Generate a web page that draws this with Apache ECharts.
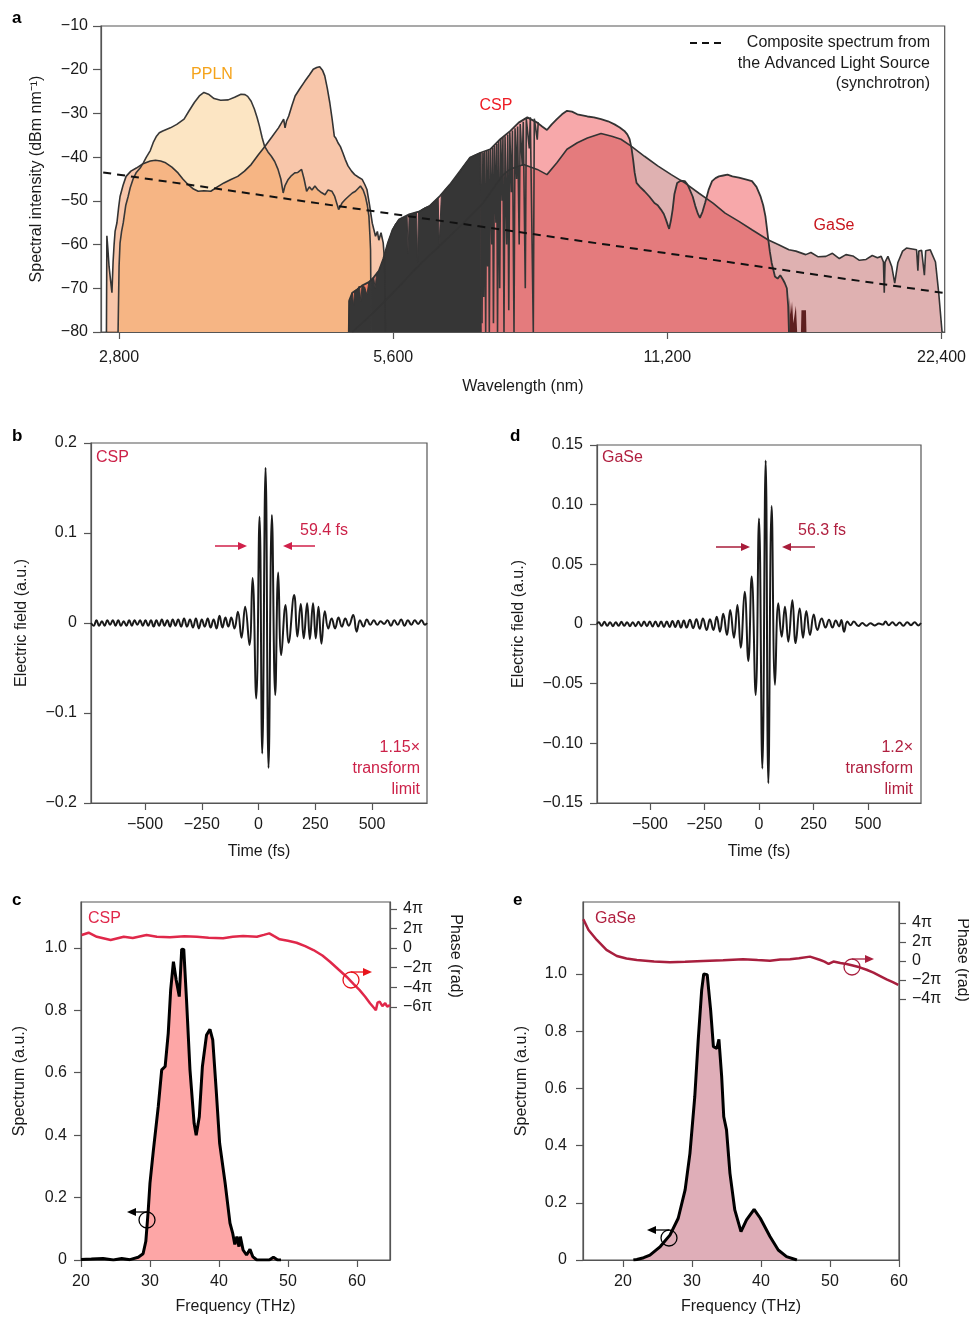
<!DOCTYPE html>
<html>
<head>
<meta charset="utf-8">
<title>Mid-IR spectra and pulses</title>
<script src="https://cdn.jsdelivr.net/npm/echarts@6/dist/echarts.min.js"></script>
<style>
  html, body { margin: 0; padding: 0; background: #fff; }
  #chart { width: 969px; height: 1317px; }
</style>
</head>
<body>
<div id="chart"></div>
<script>
// ---------- panel a : [wavelength (nm), spectral intensity (dBm/nm)]
const pplnSpec = [[2793,-80],[2800,-65],[2807,-59.6],[2818,-57],[2830,-55],[2848,-51],[2865,-49],[2880,-47],[2900,-45.1],[2925,-43.5],[2953,-42.5],[2977,-41.3],[3000,-40],[3030,-38.5],[3055,-36.5],[3078,-35.2],[3100,-34.4],[3127,-34],[3160,-33.6],[3188,-33.3],[3240,-32.5],[3300,-31.3],[3340,-29.5],[3387,-27.5],[3430,-26],[3470,-25.2],[3510,-25.6],[3560,-26.6],[3620,-27],[3690,-26.9],[3750,-26.3],[3811,-25.6],[3850,-25.7],[3876,-26.1],[3910,-27.2],[3942,-29],[3970,-31],[3993,-32.9],[4020,-35.5],[4045,-37.5],[4080,-38.8],[4115,-39.8],[4150,-41],[4185,-42.8],[4215,-45],[4240,-48.2],[4260,-46.5],[4294,-45.1],[4330,-44.2],[4366,-43.6],[4400,-43.5],[4442,-42.8],[4470,-45],[4499,-47.8],[4530,-46.8],[4560,-47.5],[4594,-46.6],[4630,-47.5],[4670,-48.1],[4713,-48.6],[4750,-47.5],[4795,-47.8],[4830,-49],[4878,-52],[4920,-50.5],[4960,-49.7],[5000,-49],[5050,-48.2],[5090,-47.8],[5155,-46.6],[5190,-47.5],[5220,-49],[5245,-51],[5266,-53.5],[5280,-58],[5288,-61.2],[5292,-70],[5297,-80]];
const pplnSpec2 = [[2712,-80],[2715,-58],[2722,-61],[2730,-65],[2740,-68],[2750,-71],[2758,-64],[2765,-60],[2772,-57],[2785,-55],[2797,-51.5],[2807,-49],[2828,-46.5],[2850,-44.4],[2885,-43.2],[2925,-42.5],[2975,-41.5],[3030,-40.9],[3070,-40.7],[3110,-40.9],[3150,-41.3],[3200,-42.3],[3250,-43.6],[3290,-45],[3335,-46.3],[3380,-47.3],[3420,-47.8],[3470,-47.7],[3531,-47.8],[3590,-46.8],[3650,-45.9],[3715,-45.1],[3780,-44.4],[3845,-43.2],[3910,-41.7],[3980,-39.5],[4050,-37.5],[4120,-35.4],[4190,-33.3],[4245,-31.3],[4260,-33.3],[4275,-31.8],[4300,-30.6],[4335,-28.2],[4370,-26],[4420,-24.4],[4480,-22.6],[4530,-21.2],[4575,-19.9],[4615,-19.5],[4650,-19.3],[4685,-20.2],[4710,-21.4],[4740,-24.2],[4770,-27.5],[4800,-31.5],[4825,-35.2],[4845,-35.7],[4870,-36.7],[4900,-37.6],[4930,-39],[4960,-40.5],[4995,-42],[5040,-43.2],[5080,-44],[5130,-44.6],[5177,-45.1],[5210,-46.2],[5240,-47.4],[5275,-51],[5311,-55.1],[5355,-58.1],[5380,-57],[5400,-59],[5430,-57.3],[5460,-59.6],[5480,-64],[5490,-80]];
const cspSpec = [[5005,-80],[5010,-72.8],[5050,-71],[5110,-70.3],[5175,-69.4],[5265,-68.6],[5330,-67.5],[5400,-66],[5460,-63.3],[5525,-59.6],[5590,-56.6],[5680,-54.3],[5830,-53.1],[5985,-52.4],[6145,-51.1],[6300,-48.9],[6460,-46.3],[6630,-43.2],[6800,-40.1],[6980,-39],[7155,-38.2],[7340,-35.9],[7530,-34],[7690,-32.1],[7860,-30.9],[8060,-32.1],[8160,-33],[8260,-33.8],[8360,-32.5],[8470,-31.3],[8580,-30.2],[8690,-29.4],[8800,-29.6],[8920,-30.2],[9150,-30.7],[9300,-30.9],[9470,-31.3],[9640,-31.8],[9800,-32.5],[9930,-33.2],[10046,-34],[10120,-34.8],[10180,-35.9],[10230,-38],[10270,-40.5],[10310,-43.5],[10360,-45.9],[10450,-46.8],[10570,-47.8],[10700,-49],[10840,-50.5],[10930,-51],[11020,-52],[11100,-53],[11160,-54.3],[11210,-55.5],[11250,-56.4],[11300,-54.5],[11350,-52],[11400,-48.5],[11480,-45.9],[11580,-45.4],[11705,-45.5],[11780,-46.2],[11850,-47.4],[11940,-49],[12020,-51.2],[12100,-53],[12160,-53.9],[12240,-52.5],[12320,-50.5],[12430,-47.5],[12540,-45.5],[12650,-44.8],[12760,-44.4],[12900,-44.2],[13040,-44],[13200,-44.4],[13420,-44.7],[13650,-45.1],[13870,-45.5],[14030,-46.8],[14170,-48.9],[14270,-51],[14350,-53.5],[14400,-56],[14440,-58.1],[14510,-61.5],[14580,-64.2],[14650,-66],[14700,-67.3],[14800,-67.8],[14900,-67],[15000,-68],[15070,-68.8],[15150,-70],[15200,-74],[15230,-80]];
const cspNoise = [[15240,-80],[15260,-72],[15300,-76],[15350,-73],[15400,-78],[15500,-74],[15550,-80],[15700,-80],[15720,-75],[15900,-75],[15920,-80]];
const gaseSpec = [[5050,-80],[5300,-76],[5600,-71],[5900,-66],[6100,-63],[6350,-59.6],[6690,-55],[7030,-50.5],[7250,-46.5],[7400,-44],[7500,-43],[7590,-42.5],[7787,-41.7],[8060,-42.8],[8260,-44],[8470,-41.3],[8690,-38.2],[8920,-36.7],[9150,-35.6],[9470,-34.6],[9730,-35.2],[9960,-35.9],[10220,-37.5],[10570,-39.8],[10930,-42],[11310,-44],[11705,-45.9],[12120,-48.2],[12570,-50.5],[12960,-52.8],[13420,-54.7],[13870,-56.6],[14440,-58.9],[14820,-60],[15230,-61.2],[15500,-61.5],[15890,-62.3],[16100,-61.8],[16400,-62.8],[16720,-62.7],[17000,-62],[17300,-63.2],[17590,-62.3],[17900,-62.6],[18200,-63.6],[18510,-63.4],[18800,-62.5],[19050,-63],[19230,-62.7],[19340,-64],[19380,-71],[19420,-64],[19560,-62.7],[19750,-65],[19900,-68.8],[20060,-64.1],[20300,-61.5],[20500,-60.8],[20800,-61],[21030,-61.2],[21100,-66],[21150,-61.5],[21300,-61.3],[21450,-67],[21520,-61.4],[21770,-61.2],[22060,-64],[22240,-71],[22430,-80]];
const absBand = [[5005,-80],[5010,-73],[5030,-72.5],[5050,-71],[5065,-74],[5080,-70.6],[5110,-70.3],[5140,-69.5],[5160,-73],[5175,-69.4],[5210,-69.7],[5240,-71.5],[5265,-68.6],[5300,-68],[5330,-67.5],[5350,-70],[5370,-66.5],[5400,-66],[5430,-65],[5460,-63.3],[5490,-62],[5525,-59.6],[5560,-58],[5590,-56.6],[5630,-55.3],[5680,-54.3],[5750,-53.8],[5800,-53.4],[5815,-62],[5830,-53.1],[5900,-52.8],[5940,-52.6],[5955,-64],[5970,-52.5],[6060,-51.6],[6145,-51.1],[6220,-50],[6275,-49.3],[6290,-60],[6310,-60],[6325,-48.8],[6380,-47.5],[6460,-46.3],[6550,-44.8],[6630,-43.2],[6720,-41.5],[6800,-40.1],[6890,-39.5],[6980,-39],[6995,-80]];
const absLines = [[6990,-39],[7010,-78],[7025,-39],[7040,-72],[7055,-38.8],[7075,-80],[7090,-38.6],[7110,-65],[7125,-38.4],[7140,-80],[7160,-38.2],[7185,-60],[7200,-37.8],[7215,-78],[7235,-37.4],[7260,-55],[7275,-37],[7290,-80],[7310,-36.3],[7330,-70],[7350,-35.8],[7375,-50],[7390,-35.5],[7410,-80],[7430,-35.2],[7460,-60],[7480,-34.8],[7500,-75],[7520,-34.3],[7550,-48],[7570,-33.9],[7600,-80],[7620,-33.4],[7650,-45],[7670,-33],[7700,-60],[7720,-32.4],[7760,-42],[7780,-31.9],[7820,-70],[7840,-31.3],[7900,-38],[7920,-30.9],[7980,-80],[8000,-31.2],[8060,-36],[8080,-32]];
const compositeSpec = [[2690,-43.5],[22580,-71.1]];
const wlTicks = [2800, 5600, 11200, 22400];

// ---------- panels b, d : [time (fs), electric field (a.u.)]
const cspField = [[-738,0],[-726,-0.003],[-714,0.003],[-702,-0.003],[-690,0.002],[-678,-0.003],[-666,0.003],[-654,-0.002],[-642,0.003],[-630,-0.003],[-618,0.003],[-606,-0.003],[-594,0.002],[-582,-0.003],[-570,0.003],[-558,-0.003],[-546,0.003],[-534,-0.002],[-522,0.003],[-510,-0.003],[-498,0.003],[-486,-0.003],[-474,0.003],[-462,-0.004],[-450,0.003],[-438,-0.003],[-426,0.004],[-414,-0.003],[-402,0.003],[-390,-0.004],[-378,0.004],[-366,-0.003],[-354,0.004],[-341,-0.004],[-328,0.005],[-315,-0.004],[-302,0.004],[-289,-0.005],[-276,0.005],[-263,-0.006],[-250,0.004],[-237,-0.004],[-224,0.005],[-211,-0.005],[-198,0.004],[-185,-0.006],[-172,0.008],[-159,-0.005],[-146,0.006],[-133,-0.004],[-120,0.006],[-106,-0.006],[-91,0.0126],[-75,-0.0163],[-59,0.018],[-40,-0.0244],[-26.5,0.05],[-10.3,-0.084],[4.4,0.118],[16.2,-0.145],[30.9,0.1726],[44,-0.161],[58.8,0.12],[73.5,-0.08],[86.7,0.056],[100,-0.0356],[119,0.02],[132,-0.022],[157,0.031],[171,-0.015],[186,0.021],[199,-0.017],[214,0.022],[226,-0.018],[240,0.022],[252,-0.017],[264,0.018],[277,-0.023],[292,0.013],[307,-0.006],[322,0.005],[337,-0.006],[352,0.006],[367,-0.004],[382,0.005],[397,-0.003],[417,0.009],[432,-0.0096],[447,0.003],[462,-0.004],[477,0.004],[492,-0.002],[508,0.003],[523,-0.002],[538,0.002],[553,-0.001],[568,0.003],[583,-0.003],[598,0.003],[613,-0.002],[628,0.004],[643,-0.003],[658,0.003],[673,-0.002],[688,0.003],[703,-0.001],[718,0.003],[733,-0.002],[742,0]];
const gaseField = [[-743,0],[-735,0.0015],[-722,-0.0015],[-709,0.0018],[-696,-0.0015],[-683,0.0015],[-670,-0.0018],[-657,0.0015],[-644,-0.0015],[-631,0.0018],[-618,-0.0015],[-605,0.0015],[-592,-0.0018],[-579,0.0015],[-566,-0.0018],[-553,0.0018],[-540,-0.0018],[-527,0.002],[-514,-0.0018],[-501,0.002],[-488,-0.002],[-475,0.002],[-462,-0.002],[-449,0.002],[-436,-0.0025],[-423,0.002],[-410,-0.0025],[-397,0.0025],[-384,-0.0025],[-371,0.0028],[-358,-0.003],[-345,0.003],[-332,-0.003],[-317,0.0035],[-302,-0.0035],[-287,0.004],[-272,-0.004],[-257,0.0047],[-240,-0.005],[-225,0.004],[-209,-0.005],[-194,0.006],[-179,-0.0064],[-164,0.0085],[-147,-0.0092],[-132,0.0117],[-115,-0.0115],[-99,0.016],[-84,-0.0198],[-65.7,0.027],[-49,-0.031],[-33.6,0.0397],[-15.3,-0.0595],[0,0.0885],[15.3,-0.121],[30.6,0.137],[42.8,-0.1334],[58,0.0988],[73.4,-0.051],[88.7,0.0173],[104,-0.0106],[119,0.0145],[134.5,-0.0148],[153,0.02],[168,-0.016],[186.6,0.013],[202,-0.0115],[217,0.0109],[234,-0.0092],[251,0.008],[267.6,-0.005],[287.5,0.0047],[305,-0.003],[321,0.0035],[337,-0.003],[352,0.003],[367,-0.002],[378,0.0034],[390,-0.0064],[405,0.002],[420,-0.001],[435,0.002],[456,-0.0017],[474,0.0008],[492,-0.0015],[511,0.0006],[530,-0.0012],[550,0.0005],[568,-0.0005],[580,0.002],[595,-0.001],[612,0.0015],[628,-0.0012],[645,0.0012],[662,-0.0015],[680,0.0015],[697,-0.001],[714,0.0015],[730,-0.0012],[743,0.0008]];
const timeTicks = [-500, -250, 0, 250, 500];

// ---------- panels c, e : [frequency (THz), spectrum (a.u.)] and [frequency, phase (rad)]
const cspSpectrum = [[20,0.002],[21.5,0.003],[23.2,0.005],[24.7,0],[25.9,0.005],[27.1,0.001],[28.3,0.009],[29.0,0.02],[29.4,0.06],[29.75,0.16],[30.0,0.246],[30.5,0.353],[31.2,0.491],[31.7,0.609],[32.2,0.62],[32.65,0.727],[33.0,0.865],[33.4,0.956],[33.8,0.897],[34.25,0.844],[34.6,0.996],[34.9,0.995],[35.3,0.833],[35.8,0.609],[36.4,0.438],[36.7,0.4],[37.15,0.459],[37.6,0.62],[38.2,0.721],[38.7,0.739],[39.1,0.705],[39.6,0.545],[40.1,0.374],[40.9,0.246],[41.6,0.118],[42.0,0.085],[42.3,0.05],[42.6,0.075],[42.9,0.043],[43.1,0.075],[43.5,0.032],[44.0,0.016],[44.5,0.034],[44.9,0.011],[45.5,0],[47.3,0],[47.9,0.009],[48.5,0],[49,0]];
const cspPhase = [[20.1,4.17],[21.1,4.9],[22.3,3.6],[24.3,2.56],[26.2,3.6],[27.5,3.2],[29.5,4.17],[31,3.6],[32.9,3.42],[35,3.8],[36.8,3.6],[38.5,3.3],[40.6,3.1],[42,3.6],[43.5,3.85],[45.5,3.6],[46.5,4.2],[47.3,4.7],[48,3.8],[48.8,2.78],[50,2.3],[51.25,1.7],[52.5,0.6],[53.7,-0.64],[55,-2.4],[56.1,-4.39],[57.3,-6.8],[58.5,-9.2],[59.5,-11.5],[60.4,-13.5],[61.2,-15.6],[61.9,-17.7],[62.4,-19],[62.75,-19.9],[63.0,-17.5],[63.3,-17.2],[63.7,-18.6],[64.1,-17.7],[64.4,-18.8],[64.8,-18.3]];
const gaseSpectrum = [[21.5,0],[22.0,0.002],[23.0,0.008],[23.9,0.017],[25.4,0.047],[26.8,0.087],[28.0,0.146],[29.0,0.245],[29.7,0.373],[30.4,0.571],[30.9,0.77],[31.4,0.944],[31.7,1.0],[32.2,0.998],[32.7,0.874],[33.1,0.746],[33.6,0.74],[33.9,0.772],[34.3,0.641],[34.6,0.501],[35.0,0.455],[35.5,0.303],[36.2,0.175],[37.1,0.099],[37.9,0.14],[39.0,0.177],[39.9,0.146],[41.3,0.082],[42.5,0.035],[43.7,0.012],[45.2,0]];
const gasePhase = [[14.25,13.8],[15.0,10.25],[16.2,6.94],[17.6,3.64],[19.1,1.65],[20.5,0.8],[22.0,0.33],[24.5,-0.2],[26.8,-0.44],[29,-0.3],[31.6,0],[34.5,0.2],[37.4,0.55],[39.5,0.3],[41.3,0.1],[42.8,0.5],[44.2,0.55],[45.5,0.9],[47.1,1.43],[48.6,0.33],[49.2,-0.2],[49.8,-1.0],[50.5,-0.2],[51.5,-0.7],[52.4,-1.0],[53.3,-1.5],[54.3,-2.1],[55.3,-2.9],[56.3,-3.86],[57.2,-4.9],[58.2,-6.06],[59.1,-7.0],[59.9,-7.94]];
const freqTicks = [20, 30, 40, 50, 60];
const specTicks = [0, 0.2, 0.4, 0.6, 0.8, 1.0];
const cPhaseTicks = [-6, -4, -2, 0, 2, 4].map(n => n * Math.PI);
const ePhaseTicks = [-4, -2, 0, 2, 4].map(n => n * Math.PI);

const FONT = '"Liberation Sans", Arial, Helvetica, sans-serif';
const INK = '#1a1a1a';
const AXIS = '#555';

function signed(v, digits) {
  if (Math.abs(v) < 1e-9) return '0';
  return (v < 0 ? '\u2212' : '') + Math.abs(v).toFixed(digits);
}
function piLabel(v) {
  const n = Math.round(v / Math.PI);
  if (n === 0) return '0';
  return (n < 0 ? '\u2212' : '') + Math.abs(n) + '\u03c0';
}

function makeAxis(o) {
  const a = {
    type: o.type || 'value',
    gridIndex: o.grid,
    min: o.min,
    max: o.max,
    name: o.name || '',
    nameLocation: 'middle',
    nameGap: o.nameGap || 0,
    nameTextStyle: { color: INK, fontSize: 16, fontFamily: FONT },
    axisLine: { show: true, onZero: false, lineStyle: { color: AXIS, width: 1.2 } },
    axisTick: { show: true, inside: false, length: o.tickLen || 7, lineStyle: { color: AXIS, width: 1.2 } },
    axisLabel: { color: INK, fontSize: 16, fontFamily: FONT, margin: o.margin || 14, formatter: o.fmt },
    splitLine: { show: false },
    minorTick: { show: false }
  };
  if (o.ticks) {
    a.axisTick.customValues = o.ticks;
    a.axisLabel.customValues = o.ticks;
  }
  if (o.interval) a.interval = o.interval;
  if (o.logBase) a.logBase = o.logBase;
  if (o.position) a.position = o.position;
  return a;
}

function areaSeries(data, x, y, fill, line, width, extra) {
  return Object.assign({
    type: 'line', xAxisIndex: x, yAxisIndex: y, data: data,
    symbol: 'none', silent: true,
    lineStyle: line ? { color: line, width: width } : { width: 0, opacity: 0 },
    areaStyle: { color: fill, origin: 'start', opacity: 1 }
  }, extra || {});
}
function lineSeries(data, x, y, color, width, extra) {
  return Object.assign({
    type: 'line', xAxisIndex: x, yAxisIndex: y, data: data,
    symbol: 'none', silent: true,
    lineStyle: { color: color, width: width }
  }, extra || {});
}

// annotation helpers (drawn above the series)
function txt(x, y, s, color, size, opts) {
  return {
    type: 'text', x: x, y: y, z: 100, silent: true,
    style: Object.assign({ text: s, fill: color, fontSize: size, fontFamily: FONT,
      textAlign: 'left', textVerticalAlign: 'middle' }, opts || {})
  };
}
function arrow(x1, x2, y, color, w) {
  const d = x2 > x1 ? 1 : -1;
  return [
    { type: 'line', z: 100, silent: true, shape: { x1: x1, y1: y, x2: x2 - d * 6, y2: y }, style: { stroke: color, lineWidth: w || 1.5 } },
    { type: 'polygon', z: 100, silent: true, shape: { points: [[x2, y], [x2 - d * 9, y - 4], [x2 - d * 9, y + 4]] }, style: { fill: color } }
  ];
}
function circleArrow(cx, cy, x2, color) {
  return [
    { type: 'circle', z: 100, silent: true, shape: { cx: cx, cy: cy, r: 8 }, style: { stroke: color, fill: 'none', lineWidth: 1.3 } }
  ].concat(arrow(cx, x2, cy - 8, color, 1.3));
}

const chart = echarts.init(document.getElementById('chart'), null, { renderer: 'canvas' });

const option = {
  animation: false,
  backgroundColor: '#fff',
  textStyle: { fontFamily: FONT },
  grid: [
    { left: 101, top: 26, width: 845, height: 306, show: true, borderColor: AXIS, borderWidth: 1.2, backgroundColor: 'transparent' },
    { left: 91, top: 443, width: 336, height: 360, show: true, borderColor: AXIS, borderWidth: 1.2, backgroundColor: 'transparent' },
    { left: 597, top: 445, width: 324, height: 358, show: true, borderColor: AXIS, borderWidth: 1.2, backgroundColor: 'transparent' },
    { left: 81, top: 902, width: 309, height: 358, show: true, borderColor: AXIS, borderWidth: 1.2, backgroundColor: 'transparent' },
    { left: 583, top: 902, width: 316, height: 358, show: true, borderColor: AXIS, borderWidth: 1.2, backgroundColor: 'transparent' }
  ],
  xAxis: [
    makeAxis({ type: 'log', logBase: 2, grid: 0, min: 2675, max: 22580, ticks: wlTicks, margin: 18,
      name: 'Wavelength (nm)', nameGap: 47, fmt: v => Math.round(v).toLocaleString('en-US') }),
    makeAxis({ grid: 1, min: -738, max: 742, ticks: timeTicks, name: 'Time (fs)', nameGap: 41, fmt: v => signed(v, 0) }),
    makeAxis({ grid: 2, min: -743, max: 743, ticks: timeTicks, name: 'Time (fs)', nameGap: 41, fmt: v => signed(v, 0) }),
    makeAxis({ grid: 3, min: 20, max: 64.8, ticks: freqTicks, name: 'Frequency (THz)', nameGap: 39, fmt: v => String(v) }),
    makeAxis({ grid: 4, min: 14.2, max: 60, ticks: freqTicks, name: 'Frequency (THz)', nameGap: 39, fmt: v => String(v) })
  ],
  yAxis: [
    makeAxis({ grid: 0, min: -80, max: -10, interval: 10, margin: 13, tickLen: 8,
      name: 'Spectral intensity (dBm nm\u207b\u00b9)', nameGap: 56, fmt: v => signed(v, 0) }),
    makeAxis({ grid: 1, min: -0.2, max: 0.2, interval: 0.1, name: 'Electric field (a.u.)', nameGap: 61, fmt: v => signed(v, 1) }),
    makeAxis({ grid: 2, min: -0.15, max: 0.15, interval: 0.05, name: 'Electric field (a.u.)', nameGap: 70, fmt: v => signed(v, 2) }),
    makeAxis({ grid: 3, min: 0, max: 1.147, ticks: specTicks, name: 'Spectrum (a.u.)', nameGap: 53, fmt: v => signed(v, 1) }),
    makeAxis({ grid: 3, min: -100, max: 14.75, ticks: cPhaseTicks, position: 'right', margin: 13, fmt: piLabel }),
    makeAxis({ grid: 4, min: 0, max: 1.252, ticks: specTicks, margin: 16, name: 'Spectrum (a.u.)', nameGap: 53, fmt: v => signed(v, 1) }),
    makeAxis({ grid: 4, min: -98.9, max: 19.5, ticks: ePhaseTicks, position: 'right', margin: 13, fmt: piLabel })
  ],
  series: [
    // panel a
    areaSeries(pplnSpec, 0, 0, '#fce5c3', '#383838', 1.6),
    areaSeries(pplnSpec2, 0, 0, 'rgba(236,101,25,0.37)', '#333', 1.6),
    areaSeries(gaseSpec, 0, 0, '#dfb1b1', null, 0),
    areaSeries(cspSpec, 0, 0, 'rgba(236,48,53,0.42)', null, 0),
    areaSeries(cspNoise, 0, 0, '#5e1f1f', null, 0),
    areaSeries(absBand, 0, 0, '#363636', '#363636', 1),
    lineSeries(absLines, 0, 0, '#363636', 1.6),
    lineSeries(gaseSpec, 0, 0, '#333', 1.6),
    lineSeries(cspSpec, 0, 0, '#333', 1.8),
    lineSeries(compositeSpec, 0, 0, '#111', 2, { lineStyle: { color: '#111', width: 2, type: [8, 6] } }),
    // panels b, d
    lineSeries(cspField, 1, 1, '#1a1a1a', 2, { smooth: 0.45 }),
    lineSeries(gaseField, 2, 2, '#1a1a1a', 2, { smooth: 0.45 }),
    // panel c
    areaSeries(cspSpectrum, 3, 3, '#fda6a6', '#000', 3),
    lineSeries(cspPhase, 3, 4, '#e0284a', 2.5),
    // panel e
    areaSeries(gaseSpectrum, 4, 5, '#dfaeb8', '#000', 3),
    lineSeries(gasePhase, 4, 6, '#a81f3e', 2.5)
  ],
  graphic: [].concat(
    [
      txt(12, 18, 'a', '#000', 17, { fontWeight: 'bold' }),
      txt(12, 436, 'b', '#000', 17, { fontWeight: 'bold' }),
      txt(510, 436, 'd', '#000', 17, { fontWeight: 'bold' }),
      txt(12, 900, 'c', '#000', 17, { fontWeight: 'bold' }),
      txt(513, 900, 'e', '#000', 17, { fontWeight: 'bold' }),
      // panel a labels
      txt(212, 75, 'PPLN', '#f5a31a', 16, { textAlign: 'center' }),
      txt(496, 106, 'CSP', '#ee1c24', 16, { textAlign: 'center' }),
      txt(834, 226, 'GaSe', '#c8161d', 16, { textAlign: 'center' }),
      { type: 'line', z: 100, silent: true, shape: { x1: 690, y1: 43, x2: 726, y2: 43 }, style: { stroke: '#111', lineWidth: 2, lineDash: [7, 5] } },
      txt(930, 43, 'Composite spectrum from', INK, 16, { textAlign: 'right' }),
      txt(930, 64, 'the Advanced Light Source', INK, 16, { textAlign: 'right' }),
      txt(930, 84, '(synchrotron)', INK, 16, { textAlign: 'right' }),
      // panel b
      txt(96, 458, 'CSP', '#cc2249', 16),
      txt(300, 531, '59.4 fs', '#cc2249', 16),
      txt(420, 748, '1.15\u00d7', '#cc2249', 16, { textAlign: 'right' }),
      txt(420, 769, 'transform', '#cc2249', 16, { textAlign: 'right' }),
      txt(420, 790, 'limit', '#cc2249', 16, { textAlign: 'right' }),
      // panel d
      txt(602, 458, 'GaSe', '#b01f3f', 16),
      txt(798, 531, '56.3 fs', '#b01f3f', 16),
      txt(913, 748, '1.2\u00d7', '#b01f3f', 16, { textAlign: 'right' }),
      txt(913, 769, 'transform', '#b01f3f', 16, { textAlign: 'right' }),
      txt(913, 790, 'limit', '#b01f3f', 16, { textAlign: 'right' }),
      // panel c, e
      txt(88, 919, 'CSP', '#e0284a', 16),
      txt(595, 919, 'GaSe', '#b01f3f', 16),
      txt(455, 956, 'Phase (rad)', INK, 16, { textAlign: 'center' }),
      txt(962, 960, 'Phase (rad)', INK, 16, { textAlign: 'center' })
    ],
    arrow(215, 247, 546, '#d0204a'),
    arrow(315, 283, 546, '#d0204a'),
    arrow(716, 750, 547, '#a81c3a'),
    arrow(815, 782, 547, '#a81c3a'),
    circleArrow(147, 1220, 127, '#000'),
    circleArrow(351, 980, 372, '#e8141c'),
    circleArrow(669, 1238, 647, '#000'),
    circleArrow(852, 967, 874, '#a81f3e')
  )
};

// rotate the two right-hand axis titles to read top to bottom
option.graphic.forEach(function (g) {
  if (g.style && g.style.text === 'Phase (rad)') g.rotation = -Math.PI / 2;
});

chart.setOption(option);
</script>
</body>
</html>
